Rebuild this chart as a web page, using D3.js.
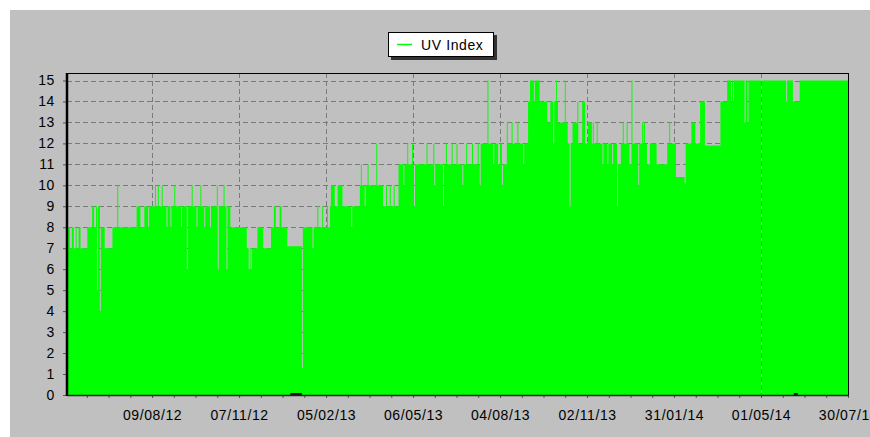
<!DOCTYPE html>
<html><head><meta charset="utf-8">
<script src="https://cdn.jsdelivr.net/npm/d3@7"></script>
<style>
html,body{margin:0;padding:0;background:#fff;overflow:hidden;}
svg{display:block;}
text{font-family:"Liberation Sans", Arial, sans-serif;}
</style></head><body>
<svg id="chart" width="870" height="437"></svg>
<script>
// ---- data ----
const startDate = "2012-05-13";
const endDate = "2014-07-30";
const seriesName = "UV Index";
// step series: day offset from startDate where a new reading begins, and its value
const runDay = [0,3,5,7,9,10,12,14,21,26,28,30,31,32,34,35,39,47,52,53,
  72,76,80,84,85,91,92,94,95,98,99,103,104,107,108,111,112,118,119,124,125,129,130,134,135,138,139,142,143,148,149,155,156,157,162,163,165,166,169,
  186,188,189,190,191,197,203,211,214,216,220,222,228,243,244,
  254,255,259,260,264,265,269,270,272,273,277,280,285,294,295,303,304,305,308,309,311,312,320,321,327,330,331,334,335,338,339,343,348,349,352,353,357,358,359,360,
  372,373,379,380,381,389,390,392,393,398,399,403,404,409,410,413,414,419,420,425,426,427,428,435,436,441,442,446,448,450,451,455,456,460,461,466,467,472,473,
  477,479,483,484,489,497,500,503,504,506,507,508,515,516,518,520,521,523,528,529,533,536,539,543,544,545,548,549,554,555,559,560,564,565,569,570,573,575,576,579,580,582,584,585,591,592,595,596,597,598,600,603,610,
  621,623,624,630,639,640,646,650,655,660,676,683,687,688,689,690,701,702,704,705,718,719,744,745,751,758];
const runUV = [8,7,8,7,8,7,8,7,8,9,8,9,5,9,4,8,7,8,10,8,
  9,8,9,8,9,10,9,10,9,10,9,8,9,8,9,10,9,8,9,6,9,10,9,8,9,10,9,8,9,8,9,10,6,9,10,9,6,9,8,
  7,6,7,6,7,8,7,8,9,8,9,8,7.1,1.3,8,
  7,8,9,8,9,8,9,8,9,10,9,10,9,8,9,10,11,10,9,10,11,10,12,10,9,10,9,10,9,10,9,11,10,11,12,11,12,11,9,11,
  12,11,12,10,11,9,11,12,11,12,11,12,11,10,11,12,11,12,11,12,11,10,12,15,12,11,12,11,12,10,11,13,12,13,12,13,12,11,12,
  14,15,14,15,14,13,14,12,14,15,14,13,15,13,12,9,12,13,14,12,14,12,13,12,13,12,13,12,11,12,11,12,11,12,9,11,12,13,12,13,12,11,15,12,10,12,13,12,13,12,11,12,11,
  12,13,12,10.4,10.1,12,13,12,14,11.9,14,15,14,15,14,15,13,15,13,15,0,15,14,15,14,15];
const tickDates = ["2012-08-09","2012-11-07","2013-02-05","2013-05-06","2013-08-04","2013-11-02","2014-01-31","2014-05-01","2014-07-30"];
const yTicks = [0,1,2,3,4,5,6,7,8,9,10,11,12,13,14,15];
const baselineMarkStart = [231, 752];
const baselineMarkEnd = [243, 756];

// ---- layout ----
const W = 870, H = 437;
const plot = {left: 67, top: 73, right: 848, bottom: 395};
const svg = d3.select("#chart");
const parse = d3.utcParse("%Y-%m-%d");
const t0 = parse(startDate), t1 = parse(endDate);

const x = d3.scaleUtc().domain([t0, t1]).range([plot.left, plot.right]);
const y = d3.scaleLinear().domain([0, 15]).range([plot.bottom, 80.5]);

svg.append("rect").attr("x", 10).attr("y", 10).attr("width", W - 10).attr("height", H - 10).attr("fill", "#c0c0c0");

// gridlines
const grid = svg.append("g").attr("stroke", "#7a7a7a").attr("stroke-dasharray", "5,3").attr("stroke-width", 1);
yTicks.filter(v => v > 0).forEach(v => {
  grid.append("line").attr("x1", plot.left).attr("x2", plot.right)
    .attr("y1", Math.round(y(v)) + 0.5).attr("y2", Math.round(y(v)) + 0.5);
});
tickDates.map(parse).filter(d => +d < +t1).forEach(d => {
  grid.append("line").attr("y1", plot.top).attr("y2", plot.bottom)
    .attr("x1", Math.round(x(d)) + 0.5).attr("x2", Math.round(x(d)) + 0.5);
});

// data
const pts = runDay.map((d, i) => ({date: d3.utcDay.offset(t0, d), v: runUV[i]}));
pts.push({date: t1, v: runUV[runUV.length - 1]});
const area = d3.area().curve(d3.curveStepAfter)
  .x(d => x(d.date)).y0(y(0)).y1(d => y(d.v));
svg.append("path").datum(pts).attr("d", area).attr("fill", "#00ff00");

// baseline marks
baselineMarkStart.forEach((s, i) => {
  svg.append("line").attr("x1", x(d3.utcDay.offset(t0, s))).attr("x2", x(d3.utcDay.offset(t0, baselineMarkEnd[i])))
    .attr("y1", plot.bottom - 1).attr("y2", plot.bottom - 1).attr("stroke", "#111").attr("stroke-width", 2);
});

// frame
svg.append("rect").attr("x", plot.left + 0.5).attr("y", plot.top + 0.5)
  .attr("width", plot.right - plot.left).attr("height", plot.bottom - plot.top)
  .attr("fill", "none").attr("stroke", "#000").attr("stroke-width", 1);

// y axis
const yAxis = svg.append("g").attr("transform", `translate(${plot.left},0)`)
  .call(d3.axisLeft(y).tickValues(yTicks).tickFormat(d3.format("d")).tickSize(4).tickPadding(8));
yAxis.select(".domain").remove();
yAxis.selectAll(".tick line").attr("stroke", "#555");
yAxis.selectAll("text").attr("font-size", 14).attr("fill", "#000").attr("letter-spacing", "0.6px")
  .attr("font-family", '"Liberation Sans", Arial, sans-serif');
svg.append("line").attr("x1", plot.left).attr("x2", plot.left).attr("y1", plot.top).attr("y2", plot.bottom + 1)
  .attr("stroke", "#000").attr("stroke-width", 2.5);

// x axis with minor ticks
const major = tickDates.map(parse);
const step = +major[1] - +major[0];
const minor = [];
for (let t = +major[0] - step; t <= +t1 + 1; t += step / 4) {
  if (t > +t0 + 1) minor.push(new Date(t));
}
const xMinor = svg.append("g").attr("transform", `translate(0,${plot.bottom})`)
  .call(d3.axisBottom(x).tickValues(minor).tickFormat("").tickSize(3));
xMinor.select(".domain").remove();
xMinor.selectAll(".tick line").attr("stroke", "#555");
const xAxis = svg.append("g").attr("transform", `translate(0,${plot.bottom})`)
  .call(d3.axisBottom(x).tickValues(major).tickFormat(d3.utcFormat("%d/%m/%y")).tickSize(3).tickPadding(12));
xAxis.select(".domain").remove();
xAxis.selectAll(".tick line").attr("stroke", "#555");
xAxis.selectAll("text").attr("font-size", 14).attr("fill", "#000").attr("letter-spacing", "0.6px")
  .attr("font-family", '"Liberation Sans", Arial, sans-serif');
svg.append("line").attr("x1", plot.left).attr("x2", plot.right + 1).attr("y1", plot.bottom + 0.5).attr("y2", plot.bottom + 0.5)
  .attr("stroke", "#222").attr("stroke-width", 1.5);

// legend
const lg = svg.append("g");
lg.append("rect").attr("x", 391).attr("y", 35).attr("width", 106).attr("height", 25).attr("fill", "#333");
lg.append("rect").attr("x", 388.5).attr("y", 32.5).attr("width", 105).attr("height", 24).attr("fill", "#fff").attr("stroke", "#000");
lg.append("line").attr("x1", 397).attr("x2", 412).attr("y1", 44.5).attr("y2", 44.5).attr("stroke", "#00ff00").attr("stroke-width", 1.5);
lg.append("text").attr("x", 421).attr("y", 49.5).attr("font-size", 14).attr("letter-spacing", "0.6px").text(seriesName);
</script>
</body></html>
